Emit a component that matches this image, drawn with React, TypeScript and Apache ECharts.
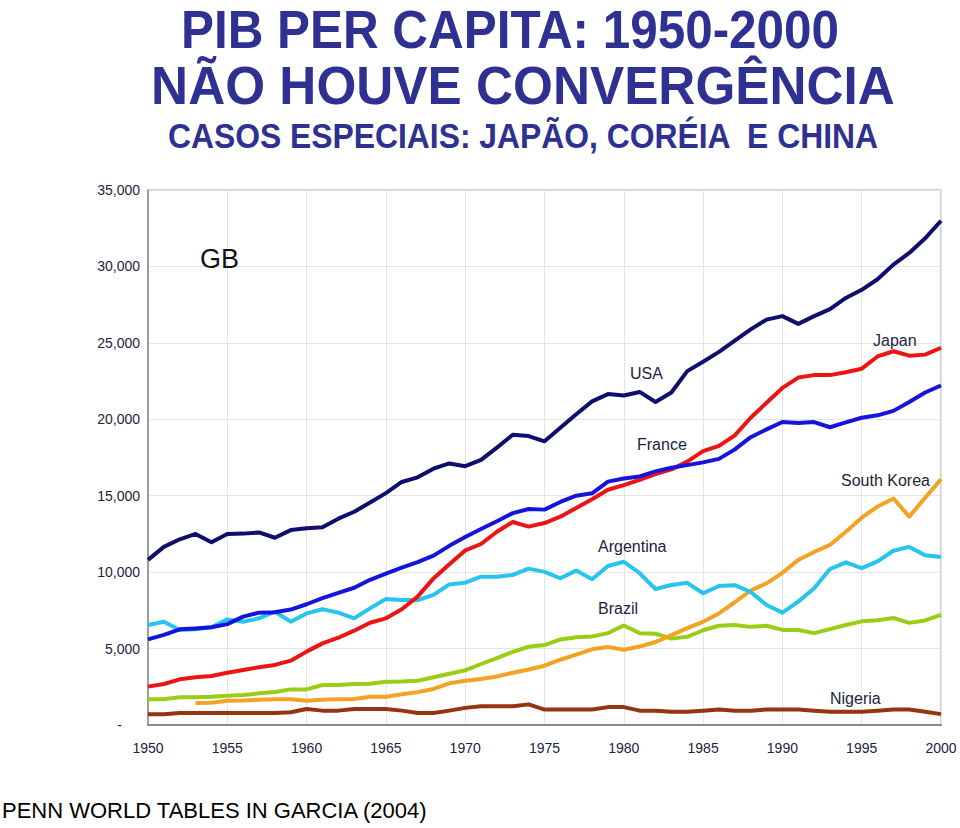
import React, { useEffect, useRef } from "react";
import * as echarts from "echarts";

const years: string[] = [
  "1950", "1951", "1952", "1953", "1954", "1955", "1956", "1957", "1958", "1959",
  "1960", "1961", "1962", "1963", "1964", "1965", "1966", "1967", "1968", "1969",
  "1970", "1971", "1972", "1973", "1974", "1975", "1976", "1977", "1978", "1979",
  "1980", "1981", "1982", "1983", "1984", "1985", "1986", "1987", "1988", "1989",
  "1990", "1991", "1992", "1993", "1994", "1995", "1996", "1997", "1998", "1999",
  "2000",
];

const usa: number[] = [
  10800, 11650, 12150, 12500, 11950, 12500, 12520, 12600, 12250, 12750,
  12870, 12940, 13500, 13950, 14550, 15170, 15900, 16200, 16770, 17110,
  16930, 17340, 18150, 18990, 18900, 18560, 19450, 20330, 21170, 21650,
  21560, 21790, 21130, 21750, 23150, 23770, 24410, 25140, 25880, 26520,
  26750, 26240, 26750, 27210, 27940, 28470, 29160, 30120, 30880, 31840,
  32990,
];

const france: number[] = [
  5600, 5900, 6260, 6320, 6390, 6600, 7090, 7350, 7380, 7550,
  7900, 8300, 8650, 8980, 9500, 9900, 10300, 10650, 11080, 11720,
  12300, 12820, 13330, 13860, 14130, 14090, 14590, 15000, 15160, 15920,
  16130, 16260, 16590, 16830, 17000, 17180, 17410, 18030, 18830, 19340,
  19820, 19750, 19820, 19480, 19800, 20100, 20260, 20550, 21130, 21750,
  22210,
];

const japan: number[] = [
  2510, 2680, 2990, 3120, 3210, 3420, 3600, 3780, 3930, 4210,
  4800, 5340, 5710, 6170, 6690, 6980, 7570, 8400, 9590, 10510,
  11420, 11840, 12640, 13280, 12980, 13210, 13630, 14200, 14770, 15390,
  15690, 16030, 16420, 16720, 17230, 17920, 18260, 18950, 20100, 21080,
  22050, 22730, 22890, 22890, 23080, 23310, 24110, 24450, 24160, 24230,
  24680,
];

const argentina: number[] = [
  6540, 6760, 6220, 6260, 6390, 6910, 6760, 6980, 7410, 6760,
  7300, 7570, 7350, 6980, 7630, 8250, 8170, 8170, 8510, 9200,
  9310, 9700, 9700, 9820, 10230, 10020, 9600, 10100, 9530, 10400,
  10680, 9930, 8900, 9160, 9300, 8620, 9090, 9150, 8700, 7850,
  7350, 8070, 8950, 10200, 10640, 10260, 10700, 11400, 11650, 11100,
  10990,
];

const brazil: number[] = [
  1680, 1680, 1810, 1810, 1850, 1920, 1960, 2070, 2160, 2330,
  2330, 2620, 2620, 2680, 2700, 2830, 2840, 2900, 3120, 3350,
  3580, 3990, 4380, 4790, 5120, 5230, 5600, 5740, 5790, 6010,
  6510, 6010, 5970, 5650, 5770, 6200, 6490, 6540, 6420, 6490,
  6220, 6220, 6010, 6270, 6540, 6780, 6850, 7000, 6680, 6840,
  7200,
];

const southKorea: (number | null)[] = [
  null, null, null, 1440, 1450, 1590, 1600, 1650, 1680, 1680,
  1590, 1650, 1680, 1700, 1850, 1850, 2010, 2150, 2360, 2730,
  2890, 3010, 3170, 3420, 3630, 3880, 4270, 4610, 4950, 5100,
  4920, 5130, 5430, 5880, 6340, 6750, 7300, 8030, 8800, 9270,
  9950, 10800, 11320, 11780, 12640, 13560, 14290, 14820, 13630, 14870,
  16080,
];

const nigeria: number[] = [
  710, 710, 780, 780, 780, 780, 780, 780, 780, 830,
  1050, 940, 940, 1050, 1050, 1050, 940, 780, 780, 940,
  1120, 1220, 1220, 1220, 1350, 1010, 1010, 1010, 1010, 1170,
  1170, 940, 940, 870, 870, 940, 1010, 940, 940, 1010,
  1010, 1010, 940, 870, 870, 870, 940, 1010, 1010, 870,
  710,
];

const yTicks = { min: 0, max: 35000, interval: 5000 };

const titleLines: string[] = [
  "PIB PER CAPITA: 1950-2000",
  "NÃO HOUVE CONVERGÊNCIA",
  "CASOS ESPECIAIS: JAPÃO, CORÉIA  E CHINA",
];
const footer = "PENN WORLD TABLES IN GARCIA (2004)";

const FONT = '"Liberation Sans", Arial, Helvetica, sans-serif';
const TITLE_COLOR = "#2e3192";
const LABEL_COLOR = "#1c2440";

export default function App() {
  const ref = useRef<HTMLDivElement>(null);

  useEffect(() => {
    if (!ref.current) return;
    const chart = echarts.init(ref.current, undefined, { renderer: "svg" });

    const mk = (name: string, data: (number | null)[], color: string, z: number) => ({
      name,
      type: "line" as const,
      data,
      showSymbol: false,
      symbol: "none",
      connectNulls: false,
      z,
      lineStyle: { color, width: 4, join: "round" as const },
      itemStyle: { color },
      emphasis: { disabled: true },
    });

    const labelText = (text: string, x: number, y: number, size = 16, color = LABEL_COLOR) => ({
      type: "text",
      x,
      y,
      z: 100,
      style: {
        text,
        fill: color,
        font: `${size}px ${FONT}`,
        textAlign: "left",
        textVerticalAlign: "middle",
      },
    });

    const titleText = (text: string, x: number, y: number, size: number, sx: number) => ({
      type: "text",
      x,
      y,
      scaleX: sx,
      z: 100,
      style: {
        text,
        fill: TITLE_COLOR,
        font: `bold ${size}px ${FONT}`,
        textAlign: "center",
        textVerticalAlign: "middle",
      },
    });

    chart.setOption({
      animation: false,
      backgroundColor: "#ffffff",
      textStyle: { fontFamily: FONT },
      grid: {
        left: 148,
        right: 19,
        top: 190,
        bottom: 103,
        show: true,
        borderColor: "#a0a0a0",
        borderWidth: 1,
        backgroundColor: "transparent",
      },
      xAxis: {
        type: "category",
        data: years,
        boundaryGap: false,
        axisLine: { show: true, lineStyle: { color: "#8a8a8a", width: 2 } },
        axisTick: { show: false },
        axisLabel: {
          interval: 4,
          color: LABEL_COLOR,
          fontSize: 14,
          fontFamily: FONT,
          margin: 16,
        },
        splitLine: { show: true, interval: 4, lineStyle: { color: "#e4e4e4", width: 1 } },
      },
      yAxis: {
        type: "value",
        min: yTicks.min,
        max: yTicks.max,
        interval: yTicks.interval,
        axisLine: { show: true, lineStyle: { color: "#8a8a8a", width: 1.5 } },
        axisTick: { show: false },
        axisLabel: {
          color: LABEL_COLOR,
          fontSize: 14,
          fontFamily: FONT,
          margin: 8,
          formatter: (v: number) =>
            v === 0 ? "{d|-}" : v.toLocaleString("en-US"),
          rich: { d: { padding: [0, 18, 0, 0], fontSize: 14, color: LABEL_COLOR } },
        },
        splitLine: { show: true, lineStyle: { color: "#e4e4e4", width: 1 } },
      },
      series: [
        mk("Nigeria", nigeria, "#953510", 2),
        mk("Brazil", brazil, "#9acd14", 3),
        mk("South Korea", southKorea, "#f4a224", 4),
        mk("Argentina", argentina, "#26c4ef", 5),
        mk("Japan", japan, "#ee1414", 6),
        mk("France", france, "#1414dc", 7),
        mk("USA", usa, "#0e0e6e", 8),
      ],
      graphic: [
        titleText(titleLines[0], 510, 29, 54, 0.915),
        titleText(titleLines[1], 523, 85, 54, 0.95),
        titleText(titleLines[2], 523, 136, 35, 0.91),
        labelText("GB", 200, 259, 27, "#111111"),
        labelText("USA", 630, 373),
        labelText("Japan", 873, 340),
        labelText("France", 637, 444),
        labelText("South Korea", 841, 480),
        labelText("Argentina", 598, 546),
        labelText("Brazil", 598, 608),
        labelText("Nigeria", 830, 698),
        {
          type: "text",
          x: 2,
          y: 810,
          z: 100,
          style: {
            text: footer,
            fill: "#000000",
            font: `22px ${FONT}`,
            textAlign: "left",
            textVerticalAlign: "middle",
          },
        },
      ],
    });

    return () => chart.dispose();
  }, []);

  return (
    <div
      ref={ref}
      style={{ position: "fixed", left: 0, top: 0, width: 960, height: 828, background: "#fff" }}
    />
  );
}
